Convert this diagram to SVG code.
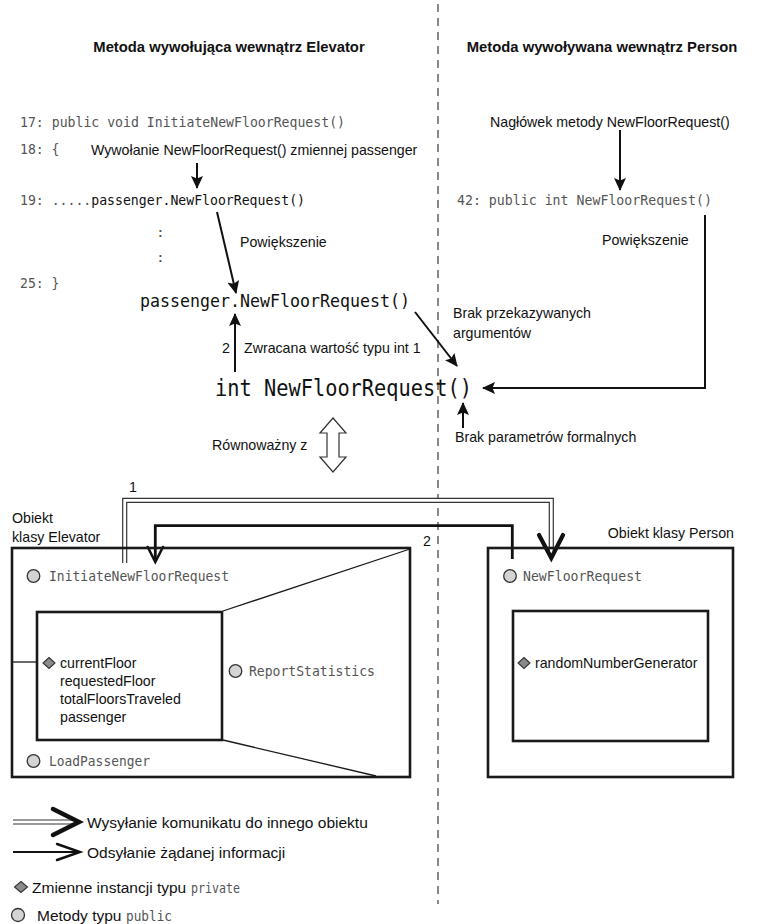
<svg xmlns="http://www.w3.org/2000/svg" width="758" height="924" viewBox="0 0 758 924">
<defs>
<style>
.lbl{font-family:"Liberation Sans",Arial,sans-serif;font-size:14.2px;fill:#111}
.hdr{font-family:"Liberation Sans",Arial,sans-serif;font-size:14.8px;font-weight:bold;fill:#111}
.leg{font-family:"Liberation Sans",Arial,sans-serif;font-size:15.5px;fill:#111}
.code{font-family:"DejaVu Sans Mono","Liberation Mono",monospace;font-size:14.6px;fill:#555}
.codeb{fill:#111}
.big{font-family:"DejaVu Sans Mono","Liberation Mono",monospace;fill:#111}
.box{fill:none;stroke:#1a1a1a;stroke-width:2.6}
.thin{fill:none;stroke:#1a1a1a;stroke-width:1.3}
.arr{fill:none;stroke:#111;stroke-width:2;marker-end:url(#head)}
.circ{fill:#d4d4d4;stroke:#333;stroke-width:1.3}
.dia{fill:#8a8a8a;stroke:#333;stroke-width:1.1}
.dblo{fill:none;stroke:#333;stroke-width:5.2}
.dbli{fill:none;stroke:#fff;stroke-width:2.8}
.vee{fill:none;stroke:#111;stroke-linecap:round;stroke-linejoin:miter}
</style>
<marker id="head" markerUnits="userSpaceOnUse" markerWidth="14" markerHeight="12" refX="12" refY="6" orient="auto">
<path d="M0,0 L13,6 L0,12 L2.5,6 z" fill="#111"/>
</marker>
</defs>
<rect width="758" height="924" fill="#fff"/>

<line x1="438" y1="4" x2="438" y2="904" stroke="#888" stroke-width="2" stroke-dasharray="8 6"/>

<g id="headers">
<text class="hdr" x="229" y="52" text-anchor="middle">Metoda wywołująca wewnątrz Elevator</text>
<text class="hdr" x="602" y="52" text-anchor="middle">Metoda wywoływana wewnątrz Person</text>
</g>

<g id="code-elevator">
<text class="code" x="20" y="127" textLength="325" lengthAdjust="spacingAndGlyphs">17: public void InitiateNewFloorRequest()</text>
<text class="code" x="20" y="154" textLength="39.5" lengthAdjust="spacingAndGlyphs">18: {</text>
<text class="code" x="20" y="205" textLength="285" lengthAdjust="spacingAndGlyphs">19: .....<tspan class="codeb">passenger.NewFloorRequest()</tspan></text>
<text class="code" x="156" y="237">:</text>
<text class="code" x="156" y="262">:</text>
<text class="code" x="20" y="288" textLength="39.5" lengthAdjust="spacingAndGlyphs">25: }</text>
<text class="lbl" x="91" y="155">Wywołanie NewFloorRequest() zmiennej passenger</text>
<text class="lbl" x="240" y="247">Powiększenie</text>
</g>

<g id="code-person">
<text class="lbl" x="490" y="127">Nagłówek metody NewFloorRequest()</text>
<text class="code" x="457" y="205" textLength="255" lengthAdjust="spacingAndGlyphs">42: public int NewFloorRequest()</text>
<text class="lbl" x="602" y="245">Powiększenie</text>
</g>

<g id="zoom-call">
<text class="big" x="140" y="307" font-size="18.5" textLength="270" lengthAdjust="spacingAndGlyphs">passenger.NewFloorRequest()</text>
<text class="lbl" x="222" y="353">2</text>
<text class="lbl" x="244" y="353">Zwracana wartość typu int  1</text>
<text class="lbl" x="453" y="318">Brak przekazywanych</text>
<text class="lbl" x="453" y="338">argumentów</text>
</g>

<g id="zoom-header">
<text class="big" x="215" y="396" font-size="23" textLength="257" lengthAdjust="spacingAndGlyphs">int NewFloorRequest()</text>
<text class="lbl" x="455" y="442">Brak parametrów formalnych</text>
</g>

<g id="equivalent">
<text class="lbl" x="212" y="450">Równoważny z</text>
<path d="M333,418 L346,433 L339,433 L339,457 L346,457 L333,472 L320,457 L327,457 L327,433 L320,433 Z" fill="#fff" stroke="#333" stroke-width="1.2"/>
</g>

<g id="connectors">
<line class="arr" x1="197" y1="163" x2="197" y2="188"/>
<line class="arr" x1="217" y1="212" x2="236" y2="293"/>
<line class="arr" x1="620" y1="130" x2="620" y2="190"/>
<line class="arr" x1="235" y1="372" x2="235" y2="314"/>
<line class="arr" x1="415" y1="312" x2="457" y2="366" stroke-width="1.8"/>
<polyline class="arr" points="705,215 705,388 483,388"/>
<line class="arr" x1="463" y1="428" x2="463" y2="403"/>
<g id="msg-1">
<path class="dblo" d="M124.7,563 V500.3 H551.3 V553"/>
<path class="dbli" d="M124.7,563 V500.3 H551.3 V553"/>
<polyline class="vee" stroke-width="4.2" points="539,535 551.3,558 563,535"/>
<text class="lbl" x="129" y="492">1</text>
</g>
<g id="msg-2">
<path fill="none" stroke="#111" stroke-width="2.8" d="M512.3,559 V525.7 H155.3 V560"/>
<polyline class="vee" stroke-width="2.6" points="147.7,547 155.3,562 163,547"/>
<text class="lbl" x="423" y="546">2</text>
</g>
</g>

<g id="elevator-object">
<text class="lbl" x="12" y="523">Obiekt</text>
<text class="lbl" x="12" y="542">klasy Elevator</text>
<rect class="box" x="12" y="548" width="398" height="229"/>
<circle class="circ" cx="33.5" cy="576" r="6.3"/>
<text class="code" x="49" y="581" textLength="180" lengthAdjust="spacingAndGlyphs">InitiateNewFloorRequest</text>
<line class="thin" x1="223" y1="611" x2="410" y2="549"/>
<line class="thin" x1="223" y1="740" x2="376" y2="776"/>
<line class="thin" x1="12" y1="662" x2="37" y2="662"/>
<g id="elevator-fields">
<rect class="box" x="37" y="612" width="185" height="128"/>
<path class="dia" d="M49,657.5 L55,663 L49,668.5 L43,663 Z"/>
<text class="lbl" x="60" y="668">currentFloor</text>
<text class="lbl" x="60" y="686">requestedFloor</text>
<text class="lbl" x="60" y="704">totalFloorsTraveled</text>
<text class="lbl" x="60" y="722">passenger</text>
</g>
<circle class="circ" cx="235.5" cy="671" r="6.3"/>
<text class="code" x="249" y="676" textLength="126" lengthAdjust="spacingAndGlyphs">ReportStatistics</text>
<circle class="circ" cx="33.5" cy="761" r="6.3"/>
<text class="code" x="49" y="766" textLength="101" lengthAdjust="spacingAndGlyphs">LoadPassenger</text>
</g>

<g id="person-object">
<text class="lbl" x="734" y="538" text-anchor="end">Obiekt klasy Person</text>
<rect class="box" x="488" y="548" width="245" height="229"/>
<circle class="circ" cx="510" cy="576" r="6.3"/>
<text class="code" x="523" y="581" textLength="119" lengthAdjust="spacingAndGlyphs">NewFloorRequest</text>
<g id="person-fields">
<rect class="box" x="513" y="611" width="195" height="130"/>
<path class="dia" d="M524,657.5 L530,663 L524,668.5 L518,663 Z"/>
<text class="lbl" x="535" y="668">randomNumberGenerator</text>
</g>
</g>

<g id="legend">
<path class="dblo" d="M13,822 H74"/>
<path class="dbli" d="M13,822 H74"/>
<polyline class="vee" stroke-width="4.5" points="53,809 79,822 53,835"/>
<text class="leg" x="87" y="827.5">Wysyłanie komunikatu do innego obiektu</text>
<line x1="13" y1="852" x2="78" y2="852" stroke="#111" stroke-width="2"/>
<polyline class="vee" stroke-width="2.4" points="57,844 80,852 57,860"/>
<text class="leg" x="87" y="857.5">Odsyłanie żądanej informacji</text>
<path class="dia" d="M21,881.5 L27.5,887 L21,892.5 L14.5,887 Z"/>
<text class="leg" x="32" y="892.5">Zmienne instancji typu</text>
<text class="code" x="191" y="892.5" textLength="49" lengthAdjust="spacingAndGlyphs">private</text>
<circle class="circ" cx="18" cy="915" r="6.5"/>
<text class="leg" x="37" y="920.5">Metody typu</text>
<text class="code" x="126" y="920.5" textLength="46" lengthAdjust="spacingAndGlyphs">public</text>
</g>
</svg>
